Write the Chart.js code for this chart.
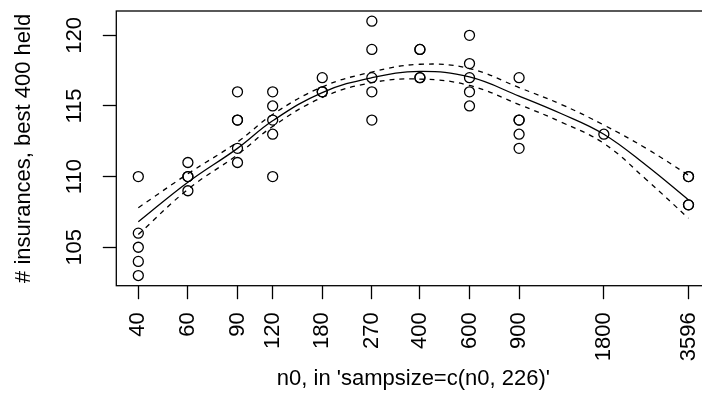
<!DOCTYPE html>
<html>
<head>
<meta charset="utf-8">
<script src="https://cdn.jsdelivr.net/npm/chart.js@4.4.1/dist/chart.umd.min.js"></script>
<style>
  html, body { margin: 0; padding: 0; background: #fff; overflow: hidden; }
  #chart { display: block; }
</style>
</head>
<body>
<canvas id="chart" width="720" height="393"></canvas>
<script>
// Tick labels
const tickN = [40, 60, 90, 120, 180, 270, 400, 600, 900, 1800, 3596];
const tickHeld = [105, 110, 115, 120];

// Single runs: n0 and number of insurances held
const runN = [
    40, 40, 40, 40, 40,
    60, 60, 60, 60,
    90, 90, 90, 90, 90,
    120, 120, 120, 120, 120,
    180, 180, 180,
    270, 270, 270, 270, 270,
    400, 400, 400, 400,
    600, 600, 600, 600, 600,
    900, 900, 900, 900, 900,
    1800,
    3596, 3596, 3596, 3596
];
const runHeld = [
    110, 106, 105, 104, 103,
    111, 110, 110, 109,
    116, 114, 114, 112, 111,
    116, 115, 114, 113, 110,
    117, 116, 116,
    121, 119, 117, 116, 114,
    119, 119, 117, 117,
    120, 118, 117, 116, 115,
    117, 114, 114, 113, 112,
    113,
    110, 110, 108, 108
];

// Smooth fit and its band
const fitN = [40, 60, 90, 120, 180, 270, 400, 600, 900, 1273, 1800, 2544, 3596];
const fitMid = [106.8, 109.6, 112.0, 113.95, 115.95, 117.0, 117.45, 117.05, 115.7, 114.45, 113.0, 110.8, 108.35];
const fitLow = [105.9, 109.1, 111.55, 113.55, 115.6, 116.65, 116.9, 116.45, 115.1, 113.85, 112.35, 109.8, 107.05];
const fitHigh = [107.8, 110.2, 112.45, 114.4, 116.35, 117.4, 117.95, 117.65, 116.3, 115.1, 113.65, 112.0, 110.1];

const FONT = { family: "'Liberation Sans', Arial, sans-serif", size: 22 };

function pairs(xs, ys) {
    return xs.map((x, i) => ({ x: x, y: ys[i] }));
}

function curve(ys, dash) {
    return {
        data: pairs(fitN, ys),
        showLine: true,
        borderColor: '#000',
        borderWidth: 1.3,
        borderDash: dash,
        tension: 0.4,
        pointRadius: 0,
        fill: false
    };
}

// Plot frame, R style
const boxPlugin = {
    id: 'box',
    afterDatasetsDraw(chart) {
        const { ctx, chartArea: a } = chart;
        ctx.save();
        ctx.strokeStyle = '#000';
        ctx.lineWidth = 1.3;
        ctx.strokeRect(a.left, a.top, a.right - a.left, a.bottom - a.top);
        ctx.restore();
    }
};

const ctx = document.getElementById('chart').getContext('2d');
new Chart(ctx, {
    type: 'scatter',
    data: {
        datasets: [
            {
                data: pairs(runN, runHeld),
                pointRadius: 5,
                pointBorderWidth: 1.3,
                pointBorderColor: '#000',
                pointBackgroundColor: 'rgba(0,0,0,0)'
            },
            curve(fitMid, []),
            curve(fitLow, [5, 5]),
            curve(fitHigh, [5, 5])
        ]
    },
    options: {
        responsive: false,
        animation: false,
        devicePixelRatio: 1,
        layout: { padding: { left: 0, top: 11, right: 9.5, bottom: 0 } },
        plugins: {
            legend: { display: false },
            tooltip: { enabled: false }
        },
        scales: {
            x: {
                type: 'logarithmic',
                min: 33.41,
                max: 4305,
                afterBuildTicks: s => { s.ticks = tickN.map(v => ({ value: v })); },
                afterFit: s => {
                    s.height = 107.3;
                    s.paddingLeft = 0;
                    s.paddingRight = 0;
                },
                ticks: {
                    autoSkip: false,
                    minRotation: 90,
                    maxRotation: 90,
                    padding: 13,
                    color: '#000',
                    font: FONT,
                    callback: v => String(v)
                },
                grid: { drawOnChartArea: false, tickLength: 13.5, tickColor: '#000', tickWidth: 1.3 },
                border: { display: false },
                title: {
                    display: true,
                    text: "n0, in 'sampsize=c(n0, 226)'",
                    color: '#000',
                    font: FONT,
                    padding: { top: 0, bottom: 0.8 }
                }
            },
            y: {
                min: 102.28,
                max: 121.72,
                afterBuildTicks: s => { s.ticks = tickHeld.map(v => ({ value: v })); },
                afterFit: s => {
                    s.width = 116.3;
                    s.paddingTop = 0;
                    s.paddingBottom = 0;
                },
                ticks: {
                    minRotation: 90,
                    maxRotation: 90,
                    crossAlign: 'center',
                    padding: 9.5,
                    color: '#000',
                    font: FONT
                },
                grid: { drawOnChartArea: false, tickLength: 13.5, tickColor: '#000', tickWidth: 1.3 },
                border: { display: false },
                title: {
                    display: true,
                    text: '# insurances, best 400 held',
                    color: '#000',
                    font: FONT,
                    padding: { top: 10.8, bottom: 0 }
                }
            }
        }
    },
    plugins: [boxPlugin]
});
</script>
</body>
</html>
